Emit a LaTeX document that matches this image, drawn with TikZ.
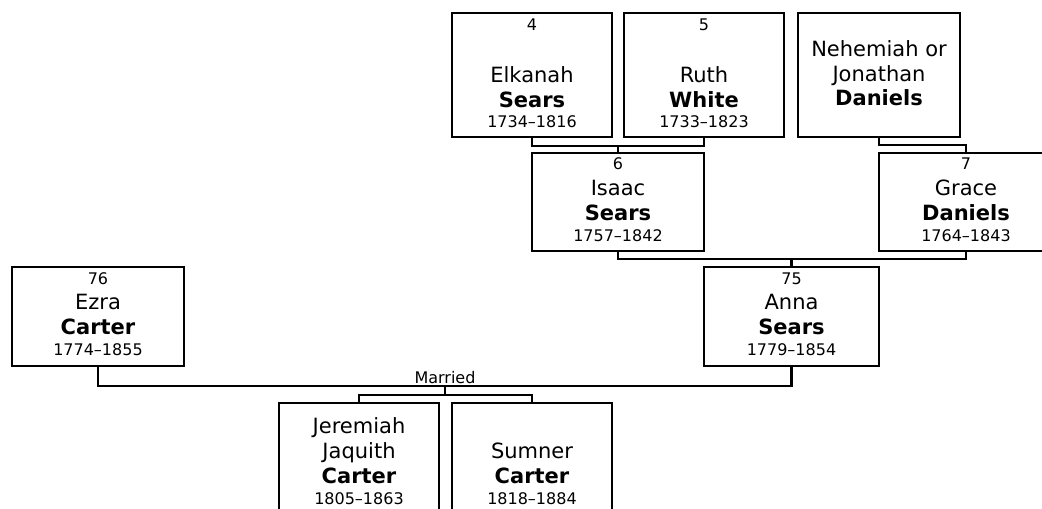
\documentclass[tikz,border=0pt]{standalone}
\usepackage{fontspec}
\setmainfont{DejaVu Sans}
\usetikzlibrary{fit}
\tikzset{
  person/.style={draw, line width=1.6pt, inner sep=0pt},
  nm/.style={anchor=base, inner sep=0pt, font=\fontsize{15.75}{18}\selectfont},
  sn/.style={anchor=base, inner sep=0pt, font=\fontsize{15.75}{18}\selectfont\bfseries},
  sm/.style={anchor=base, inner sep=0pt, font=\fontsize{12}{14}\selectfont},
  link/.style={line width=1.6pt},
}
\begin{document}
\begin{tikzpicture}[x=0.75pt,y=-0.75pt]
\useasboundingbox (0,0) rectangle (1042,508);
\fill[white] (0,0) rectangle (1042,508);

% boxes
\node[person, fit={(452,13)(612,137)}] (p4) {};
\node[person, fit={(624,13)(784,137)}] (p5) {};
\node[person, fit={(798,13)(960,137)}] (pN) {};
\node[person, fit={(532,153)(704,251)}] (p6) {};
\node[person, fit={(879,153)(1053,251)}] (p7) {};
\node[person, fit={(12,267)(184,366)}] (p76) {};
\node[person, fit={(704,267)(879,366)}] (p75) {};
\node[person, fit={(279,403)(439,530)}] (c1) {};
\node[person, fit={(452,403)(612,530)}] (c2) {};

% texts
\node[sm] (t4a) at (532,30) {4};
\node[nm] (t4b) at (532,82) {Elkanah};
\node[sn] (t4c) at (532,107) {Sears};
\node[sm] (t4d) at (532,127) {1734–1816};

\node[sm] (t5a) at (704,30) {5};
\node[nm] (t5b) at (704,82) {Ruth};
\node[sn] (t5c) at (704,107) {White};
\node[sm] (t5d) at (704,127) {1733–1823};

\node[nm] (tNa) at (879,56) {Nehemiah or};
\node[nm] (tNb) at (879,81) {Jonathan};
\node[sn] (tNc) at (879,105) {Daniels};

\node[sm] (t6a) at (618,169) {6};
\node[nm] (t6b) at (618,195) {Isaac};
\node[sn] (t6c) at (618,220) {Sears};
\node[sm] (t6d) at (618,241) {1757–1842};

\node[sm] (t7a) at (966,169) {7};
\node[nm] (t7b) at (966,195) {Grace};
\node[sn] (t7c) at (966,220) {Daniels};
\node[sm] (t7d) at (966,241) {1764–1843};

\node[sm] (t76a) at (98,284) {76};
\node[nm] (t76b) at (98,309) {Ezra};
\node[sn] (t76c) at (98,334) {Carter};
\node[sm] (t76d) at (98,355) {1774–1855};

\node[sm] (t75a) at (791.5,284) {75};
\node[nm] (t75b) at (791.5,309) {Anna};
\node[sn] (t75c) at (791.5,334) {Sears};
\node[sm] (t75d) at (791.5,355) {1779–1854};

\node[nm] (tc1a) at (359,433) {Jeremiah};
\node[nm] (tc1b) at (359,458) {Jaquith};
\node[sn] (tc1c) at (359,483) {Carter};
\node[sm] (tc1d) at (359,504) {1805–1863};

\node[nm] (tc2b) at (532,458) {Sumner};
\node[sn] (tc2c) at (532,483) {Carter};
\node[sm] (tc2d) at (532,504) {1818–1884};

% connectors
\coordinate (j45) at (618,146);
\coordinate (jN7) at (966,145);
\coordinate (j67) at (791.5,259);
\coordinate (mj) at (445,386);
\coordinate (cj) at (445,395);

\draw[link] (p4.south) |- (j45) -| (p5.south);
\draw[link] (j45) -- (p6.north);
\draw[link] (pN.south) |- (jN7) -- (p7.north);
\draw[link] (p6.south) |- (j67) -| (p7.south);
\draw[link] (j67) -- (p75.north);
\draw[link] (p76.south) |- (mj) -| (p75.south);
\draw[link] (mj) -- (cj);
\draw[link] (c1.north) |- (cj) -| (c2.north);
\node[sm] (mar) at (445,383) {Married};
\end{tikzpicture}
\end{document}
